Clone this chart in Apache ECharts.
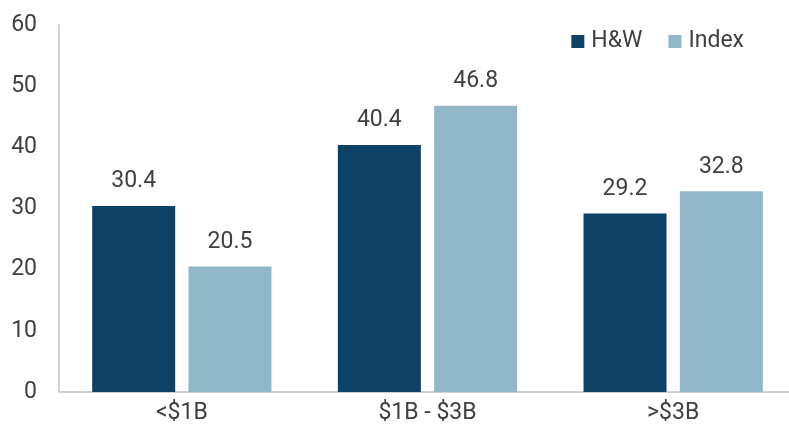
<!DOCTYPE html>
<html lang="en">
<head>
    <meta charset="UTF-8">
    <title>H&W vs Index</title>
    <script src="https://cdn.jsdelivr.net/npm/echarts@6/dist/echarts.min.js"></script>
    <style>
        html, body { margin: 0; padding: 0; background: #fff; }
        #chart { width: 789px; height: 433px; }
    </style>
</head>
<body>
<div id="chart"></div>
<script>
    var categories = ['<$1B', '$1B - $3B', '>$3B'];
    var hwValues = [30.4, 40.4, 29.2];
    var indexValues = [20.5, 46.8, 32.8];

    var textColor = '#404040';
    var font = 'Roboto';
    var fontSize = 23;

    var myChart = echarts.init(document.getElementById('chart'));
    var option = {
        animation: false,
        textStyle: { fontFamily: font },
        // the plot runs a little past the right edge of the picture
        grid: { left: 59, width: 737, top: 25, bottom: 41, containLabel: false, outerBoundsMode: 'none' },
        legend: {
            right: 40,
            top: 25,
            itemWidth: 13,
            itemHeight: 13,
            itemGap: 26,
            icon: 'rect',
            textStyle: { fontSize: fontSize, color: textColor, fontFamily: font, padding: [0, 0, 0, 2] },
            data: ['H&W', 'Index']
        },
        xAxis: {
            type: 'category',
            data: categories,
            axisLine: { lineStyle: { color: '#c0c4c8', width: 1.5 } },
            axisTick: { show: false },
            axisLabel: { fontSize: fontSize, color: textColor, margin: 10, fontFamily: font }
        },
        yAxis: {
            type: 'value',
            min: 0,
            max: 60,
            interval: 10,
            axisLine: { show: true, lineStyle: { color: '#c0c4c8', width: 1.5 } },
            axisTick: { show: false },
            splitLine: { show: false },
            axisLabel: { fontSize: fontSize, color: textColor, margin: 22, fontFamily: font }
        },
        series: [
            {
                name: 'H&W',
                type: 'bar',
                data: hwValues,
                barWidth: 83,
                barGap: '16%',
                itemStyle: { color: '#0e4166' },
                label: { show: true, position: 'top', distance: 13, fontSize: fontSize, color: textColor, fontFamily: font }
            },
            {
                name: 'Index',
                type: 'bar',
                data: indexValues,
                barWidth: 83,
                itemStyle: { color: '#92b7c9' },
                label: { show: true, position: 'top', distance: 13, fontSize: fontSize, color: textColor, fontFamily: font }
            }
        ]
    };
    myChart.setOption(option);
</script>
</body>
</html>
